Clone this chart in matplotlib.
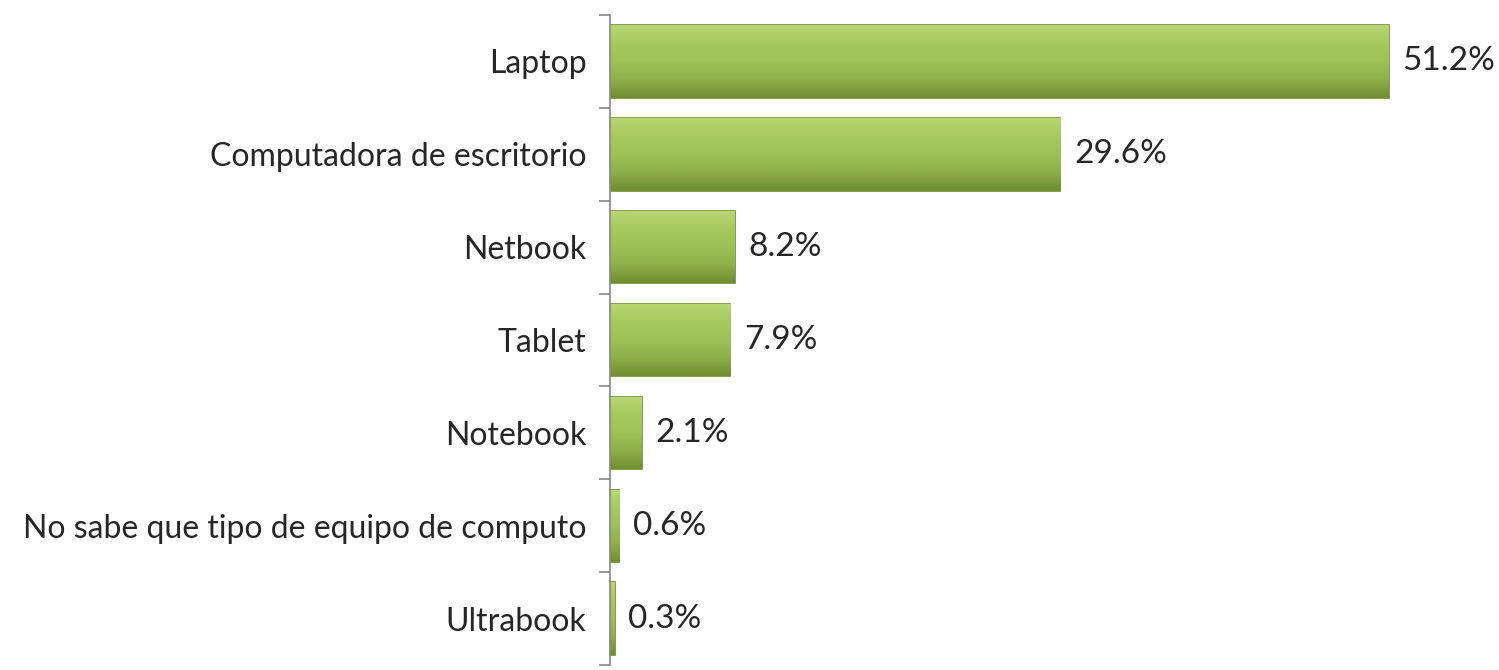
import matplotlib.pyplot as plt
import numpy as np
from matplotlib.colors import LinearSegmentedColormap

categories = ["Laptop", "Computadora de escritorio", "Netbook", "Tablet",
              "Notebook", "No sabe que tipo de equipo de computo", "Ultrabook"]
values = [51.2, 29.6, 8.2, 7.9, 2.1, 0.6, 0.3]
value_labels = ["51.2%", "29.6%", "8.2%", "7.9%", "2.1%", "0.6%", "0.3%"]

plt.rcParams['font.family'] = ['Lato', 'DejaVu Sans']

fig = plt.figure(figsize=(14.99, 6.70), dpi=100)
ax = fig.add_axes([610 / 1499, 5 / 670, 870 / 1499, 650 / 670])

n = len(categories)
ypos = np.arange(n)
bar_h = 0.78

# vertical gradient: light on top, darker toward the bottom
cmap = LinearSegmentedColormap.from_list(
    "grn", ["#b8d873", "#a6c95d", "#9ec257", "#8fb04a", "#6f8f30"])
grad = np.linspace(0, 1, 64).reshape(-1, 1)

bars = ax.barh(ypos, values, height=bar_h, color="#9bbb59",
               edgecolor="#6d8a33", linewidth=1.2, zorder=2)
for b in bars:
    x0, y0 = b.get_x(), b.get_y()
    w, h = b.get_width(), b.get_height()
    # y axis is inverted, so y0 is the top edge on screen
    im = ax.imshow(grad, cmap=cmap, aspect="auto", origin="upper",
                   extent=[x0, x0 + w, y0 + h, y0], zorder=2.5,
                   interpolation="bicubic")
    im.set_clip_path(b)

for y, v, lab in zip(ypos, values, value_labels):
    ax.text(v + 0.9, y, lab, va="center", ha="left", fontsize=24,
            color="#262626")

ax.set_xlim(0, 57.2)
ax.set_ylim(n - 0.5, -0.5)
ax.set_yticks(ypos)
ax.set_yticklabels(categories, fontsize=23, color="#262626")
ax.set_yticks(np.arange(n + 1) - 0.5, minor=True)
ax.tick_params(axis="y", which="major", length=0, pad=17)
ax.tick_params(axis="y", which="minor", length=8, width=1.2, color="#868686")
ax.set_xticks([])
for s in ["top", "right", "bottom"]:
    ax.spines[s].set_visible(False)
ax.spines["left"].set_color("#868686")
ax.spines["left"].set_linewidth(1.2)

fig.savefig("out.png", dpi=100)
